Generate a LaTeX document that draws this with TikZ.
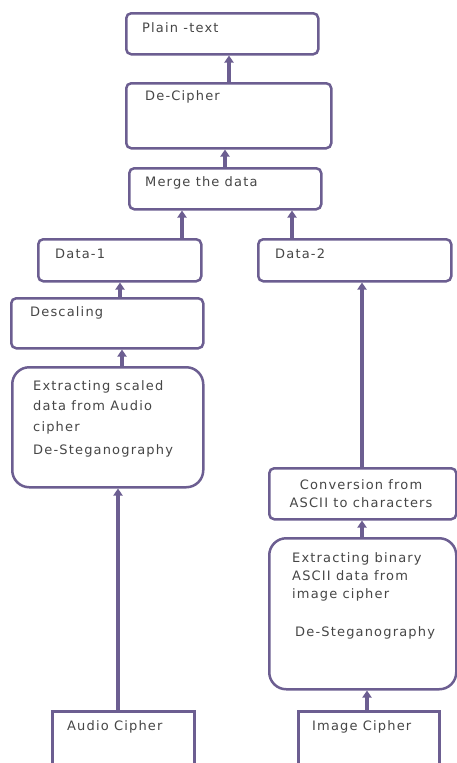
\documentclass[tikz,border=0pt]{standalone}
\usepackage{fontspec}
\setmainfont{DejaVu Sans}[LetterSpace=9]
\usetikzlibrary{arrows.meta}
\definecolor{frame}{RGB}{108,94,145}
\definecolor{ink}{RGB}{70,70,70}
\begin{document}
\begin{tikzpicture}[x=1pt,y=-1pt,
  box/.style={draw=frame, line width=2.5pt, fill=white, rounded corners=5pt, anchor=north west, inner sep=0pt},
  bigbox/.style={box, rounded corners=17pt},
  sqbox/.style={box, sharp corners},
  txt/.style={text=ink, font=\fontsize{13}{18}\selectfont, anchor=west, inner sep=0pt},
  mtxt/.style={txt, anchor=north west, align=left},
  arr/.style={draw=frame, line width=3.2pt, -{Triangle[length=7pt,width=9pt]}}]
\useasboundingbox (0,0) rectangle (457,763);
\clip (0,0) rectangle (457,763);

% boxes
\node[box, minimum width=192pt, minimum height=41pt] (plain) at (125,12) {};
\node[box, minimum width=205pt, minimum height=65pt] (decipher) at (125,82) {};
\node[box, minimum width=192pt, minimum height=41pt] (merge) at (128,167) {};
\node[box, minimum width=163pt, minimum height=42pt] (data1) at (37,238) {};
\node[box, minimum width=193pt, minimum height=42pt] (data2) at (257,238) {};
\node[box, minimum width=192pt, minimum height=50pt] (descaling) at (10,297) {};
\node[bigbox, minimum width=191pt, minimum height=120pt] (scaled) at (11,366) {};
\node[box, minimum width=187pt, minimum height=51pt] (conversion) at (268,467) {};
\node[bigbox, minimum width=187pt, minimum height=151pt] (binary) at (268,537) {};
\node[sqbox, minimum width=142pt, minimum height=70pt] (audio) at (51,710) {};
\node[sqbox, minimum width=141pt, minimum height=70pt] (image) at (297,710) {};

% texts
\node[txt] (tplain) at (142,28) {Plain -text};
\node[txt] (tdecipher) at (145,97) {De-Cipher};
\node[txt] (tmerge) at (145,183) {Merge the data};
\node[txt] (tdata1) at (55,254) {Data-1};
\node[txt] (tdata2) at (275,254) {Data-2};
\node[txt] (tdescaling) at (30,313) {Descaling};
\node[mtxt, font=\fontsize{13}{20.5}\selectfont] (tscaled) at (33,380) {Extracting scaled\\data from Audio\\cipher\\[3pt]De-Steganography};
\node[txt, anchor=north, align=center] (tconversion) at (361,479) {Conversion from\\ASCII to characters};
\node[mtxt] (tbinary) at (292,552) {Extracting binary\\ASCII data from\\image cipher\\[20pt]\hspace*{3pt}De-Steganography};
\node[txt] (taudio) at (67,727) {Audio Cipher};
\node[txt] (timage) at (312,727) {Image Cipher};

% connectors
\draw[arr] (decipher.north -| 229,0) -- (plain.south -| 229,0);
\draw[arr] (merge.north -| 225,0) -- (decipher.south -| 225,0);
\draw[arr] (data1.north -| 182,0) -- (merge.south -| 182,0);
\draw[arr] (data2.north -| 292,0) -- (merge.south -| 292,0);
\draw[arr] (descaling.north -| 120,0) -- (data1.south -| 120,0);
\draw[arr] (scaled.north -| 122,0) -- (descaling.south -| 122,0);
\draw[arr] (audio.north -| 118,0) -- (scaled.south -| 118,0);
\draw[arr] (conversion.north -| 362,0) -- (data2.south -| 362,0);
\draw[arr] (binary.north -| 362,0) -- (conversion.south -| 362,0);
\draw[arr] (image.north -| 367,0) -- (binary.south -| 367,0);
\end{tikzpicture}
\end{document}
